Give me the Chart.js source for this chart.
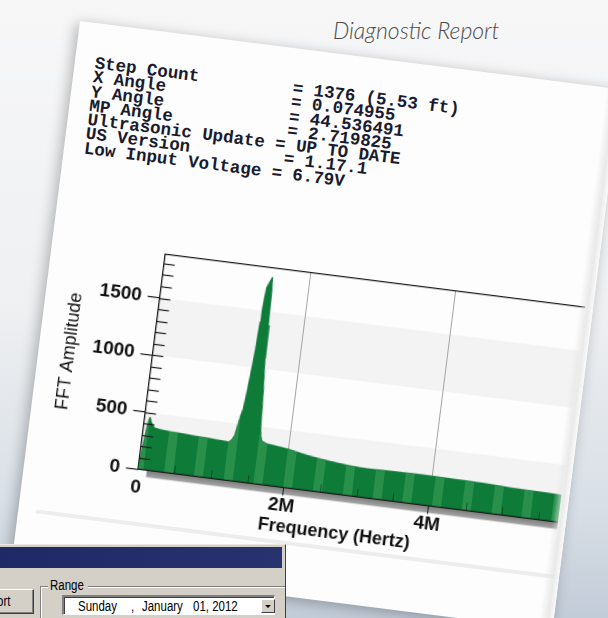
<!DOCTYPE html>
<html><head><meta charset="utf-8">
<script src="https://cdn.jsdelivr.net/npm/chart.js@4.4.1/dist/chart.umd.min.js"></script>
<style>
html,body{margin:0;padding:0;width:608px;height:618px;overflow:hidden;}
body{position:relative;background:linear-gradient(180deg,#f7f7f8 0%,#eef0f2 50%,#d8dfe6 82%,#c2ccd8 100%);font-family:"Liberation Sans",Arial,sans-serif;}
#title{position:absolute;left:333px;top:16px;font-family:Lato,"Open Sans",sans-serif;font-style:italic;font-weight:300;font-size:23px;color:#4d4d4d;}
#paper{position:absolute;left:80px;top:21px;width:545px;height:545px;background:#fdfdfd;transform-origin:0 0;transform:rotate(7.2deg);overflow:hidden;box-shadow:-3px 3px 14px rgba(0,0,0,0.28);}
#curl{position:absolute;right:0;top:0;width:14px;height:100%;background:linear-gradient(90deg,rgba(240,240,240,0),rgba(228,228,228,0.8) 60%,rgba(250,250,250,1));}
#report{position:absolute;left:20px;top:33px;margin:0;font-family:"Liberation Mono","Courier New",monospace;font-weight:bold;font-size:17.5px;line-height:14.3px;color:#1a1b2e;white-space:pre;}
#sep{position:absolute;left:18px;top:490px;width:530px;height:4px;background:#ededed;}
#clip{position:absolute;left:0;top:200px;width:537px;height:288px;overflow:hidden;}
#c{position:absolute;left:0;top:0;}
#dlg{position:absolute;left:0;top:544px;width:285px;height:74px;background:#d4d0c8;border-right:1px solid #404040;border-top:1px solid #ece9e3;font-family:"Liberation Sans",Arial,sans-serif;font-size:14px;color:#000;overflow:hidden;}
#tb{position:absolute;left:0;top:2px;right:3px;height:21px;background:linear-gradient(90deg,#1f2966,#27326e);}
#btn{position:absolute;left:-30px;top:44px;width:62px;height:23px;border-top:1px solid #fff;border-left:1px solid #fff;border-right:1px solid #404040;border-bottom:1px solid #404040;box-shadow:inset -1px -1px 0 #808080;}
#btn span{position:absolute;left:5px;top:0;line-height:23px;transform:scaleX(0.82);transform-origin:0 0;}
#grp{position:absolute;left:40px;top:41px;width:300px;height:60px;border-top:1px solid #808080;border-left:1px solid #808080;box-shadow:inset 1px 1px 0 #fff;}
#grpl{position:absolute;left:48px;top:32px;width:40px;height:17px;background:#d4d0c8;}
#grpl span{position:absolute;left:2px;top:0;line-height:17px;transform:scaleX(0.82);transform-origin:0 0;}
#dtp{position:absolute;left:62px;top:50px;width:210px;height:17px;background:#fff;border-top:2px solid #808080;border-left:2px solid #808080;border-bottom:1px solid #fff;border-right:1px solid #fff;box-shadow:inset 1px 1px 0 #404040;}
#dtp span{position:absolute;top:0;line-height:18px;transform:scaleX(0.82);transform-origin:0 0;white-space:pre;}
#dd{position:absolute;left:197px;top:2px;width:12px;height:12px;background:#d4d0c8;border-top:1px solid #fff;border-left:1px solid #fff;border-right:1px solid #404040;border-bottom:1px solid #404040;}
#dd:after{content:"";position:absolute;left:3px;top:5px;border-left:3px solid transparent;border-right:3px solid transparent;border-top:3px solid #000;}
</style></head>
<body>
<div id="title">Diagnostic Report</div>
<div id="paper">
<pre id="report">Step Count         = 1376 (5.53 ft)
X Angle            = 0.074955
Y Angle            = 44.536491
MP Angle           = 2.719825
Ultrasonic Update = UP TO DATE
US Version         = 1.17.1
Low Input Voltage = 6.79V</pre>
<div id="clip"><canvas id="c" width="632" height="288"></canvas></div>
<div id="sep"></div>
<div id="curl"></div>
</div>
<div id="dlg">
<div id="tb"></div>
<div id="btn"><span>Report</span></div>
<div id="grp"></div>
<div id="grpl"><span>Range</span></div>
<div id="dtp"><span style="left:14px">Sunday</span><span style="left:67px">,</span><span style="left:78px">January</span><span style="left:129px">01, 2012</span><div id="dd"></div></div>
</div>
<script>
const freqMHz = [0, 0.015, 0.03, 0.05, 0.07, 0.08, 0.1, 0.13, 0.16, 0.22,
  0.3, 0.4, 0.5, 0.6, 0.7, 0.8, 0.9, 1.0, 1.1, 1.18,
  1.22, 1.25, 1.28, 1.3, 1.32, 1.34, 1.36, 1.38, 1.39, 1.4,
  1.41, 1.43, 1.46, 1.48, 1.497, 1.509, 1.52, 1.532, 1.55, 1.566,
  1.58, 1.592, 1.61, 1.63, 1.7, 1.8, 1.9, 2.0, 2.1, 2.2,
  2.3, 2.4, 2.5, 2.6, 2.7, 2.8, 2.9, 3.0, 3.1, 3.2,
  3.3, 3.4, 3.5, 3.6, 3.7, 3.8, 3.9, 4.0, 4.1, 4.2,
  4.3, 4.4, 4.5, 4.6, 4.7, 4.8, 4.9, 5.0, 5.1, 5.2,
  5.3, 5.4, 5.5, 5.6, 5.7, 5.8, 5.9, 6.0, 6.2, 6.4, 6.6, 6.8, 7.0, 7.07];
const amplitude = [30, 120, 235, 380, 455, 462, 425, 392, 374, 367,
  362, 358, 356, 352, 349, 346, 344, 340, 337, 334,
  360, 395, 510, 580, 630, 760, 925, 1100, 1220, 1400,
  1520, 1700, 1750, 1780, 1800, 1670, 1380, 1090, 930, 800,
  640, 500, 420, 378, 360, 352, 345, 337, 324, 312,
  301, 292, 284, 277, 270, 264, 259, 256, 254, 255,
  257, 258, 259, 260, 261, 262, 262, 261, 260, 259,
  258, 258, 257, 256, 255, 253, 250, 247, 245, 244,
  243, 242, 241, 240, 238, 236, 235, 233, 230, 228, 226, 224, 222, 221];
const xMajorTicks = [0, 2, 4, 6];
const xTickLabels = ['0', '2M', '4M', '6M'];
const xMinorTicks = [0.5, 1, 1.5, 2.5, 3, 3.5, 4.5, 5, 5.5, 6.5];
const yMajorTicks = [0, 500, 1000, 1500];
const yMinorTicks = [100, 200, 300, 400, 500, 600, 700, 800, 900, 1000, 1100, 1200, 1300, 1400, 1500, 1600, 1700, 1800];
const bandRanges = [[0, 500], [1000, 1500]];
const xMax = 7.07, yMax = 1880;

const canvas = document.getElementById('c');
const ctx = canvas.getContext('2d');
function stripes(c2) {
  const p = document.createElement('canvas'); p.width = 30; p.height = 4;
  const g = p.getContext('2d');
  g.fillStyle = '#0f7b39'; g.fillRect(0, 0, 30, 4);
  g.fillStyle = '#29904b'; g.fillRect(20, 0, 9, 4);
  return c2.createPattern(p, 'repeat');
}
const bandsPlugin = {
  id: 'bands',
  beforeDraw(chart) {
    const {ctx: c, chartArea: a, scales: {y}} = chart;
    c.save();
    c.fillStyle = '#f3f3f3';
    bandRanges.forEach(([lo, hi]) => {
      const t = y.getPixelForValue(hi), b = y.getPixelForValue(lo);
      c.fillRect(a.left, t, a.right - a.left, b - t);
    });
    const grd = c.createLinearGradient(0, a.bottom, 0, a.bottom + 7);
    grd.addColorStop(0, '#7a7a7a'); grd.addColorStop(1, '#a8a8a8');
    c.fillStyle = grd;
    c.fillRect(a.left + 9, a.bottom, a.right - a.left, 7);
    c.restore();
  }
};
const overlayPlugin = {
  id: 'overlay',
  afterDatasetsDraw(chart) {
    const {ctx: c, chartArea: a, scales: {x, y}} = chart;
    c.save();
    c.strokeStyle = 'rgba(0,0,0,0.4)'; c.lineWidth = 1;
    xMinorTicks.forEach(v => {
      const px = Math.round(x.getPixelForValue(v)) + 0.5;
      c.beginPath(); c.moveTo(px, a.bottom); c.lineTo(px, a.bottom - 8); c.stroke();
    });
    c.strokeStyle = '#1a1a1a'; c.lineWidth = 1.3;
    c.beginPath(); c.moveTo(a.left, a.bottom); c.lineTo(a.right, a.bottom); c.stroke();
    c.beginPath(); c.moveTo(a.left, a.top); c.lineTo(a.right, a.top); c.stroke();
    c.lineWidth = 1.2;
    yMinorTicks.forEach(v => {
      const py = Math.round(y.getPixelForValue(v)) + 0.5;
      c.beginPath(); c.moveTo(a.left, py); c.lineTo(a.left + 11, py); c.stroke();
    });
    c.restore();
  }
};
const tickFont = {family: '"Liberation Sans", Arial, sans-serif', size: 19, weight: 'bold'};
new Chart(ctx, {
  type: 'line',
  data: {datasets: [{
    data: freqMHz.map((f, i) => ({x: f, y: amplitude[i]})),
    fill: 'origin', backgroundColor: stripes(ctx), borderColor: '#0e7637', borderWidth: 0.8,
    pointRadius: 0, tension: 0
  }]},
  options: {
    responsive: false, animation: false, devicePixelRatio: 1,
    layout: {padding: {top: 20.7, left: 0, right: 0, bottom: 0}},
    plugins: {
      legend: {display: false}, tooltip: {enabled: false},
      title: {display: true, text: 'Frequency (Hertz)', position: 'bottom', color: '#111',
        font: {family: '"Liberation Sans", Arial, sans-serif', size: 18, weight: 'bold'}, padding: {top: -3, bottom: 0}}
    },
    scales: {
      x: {
        type: 'linear', min: 0, max: xMax,
        ticks: {stepSize: 2, includeBounds: false, autoSkip: false, maxRotation: 0, padding: -1, color: '#111', font: tickFont,
          callback: v => { const i = xMajorTicks.indexOf(v); return i >= 0 ? xTickLabels[i] : ''; }},
        grid: {color: c => (c.tick && c.tick.value === 0) ? 'rgba(0,0,0,0)' : '#a4a4a4', lineWidth: 1, tickLength: 8,
          tickColor: c => (c.tick && c.tick.value === 0) ? 'rgba(0,0,0,0)' : '#1a1a1a'},
        border: {display: false},
        afterFit: s => { s.height = 32; }
      },
      y: {
        type: 'linear', min: 0, max: yMax, z: 1,
        ticks: {stepSize: 100, includeBounds: false, autoSkip: false, padding: 6, color: '#111', font: tickFont,
          callback: v => yMajorTicks.includes(v) ? String(v) : ''},
        grid: {drawOnChartArea: false, tickLength: 12, lineWidth: 1.2,
          tickColor: c => (c.tick && yMajorTicks.includes(c.tick.value)) ? '#1a1a1a' : 'rgba(0,0,0,0)',
          color: c => (c.tick && yMajorTicks.includes(c.tick.value)) ? '#1a1a1a' : 'rgba(0,0,0,0)'},
        border: {display: true, color: '#1a1a1a', width: 1.3},
        title: {display: true, text: 'FFT Amplitude', color: '#111',
          font: {family: '"Liberation Sans Narrow", "Liberation Sans", Arial, sans-serif', size: 18}, padding: {top: 20, bottom: 0}},
        afterFit: s => { s.width = 113.6; }
      }
    }
  },
  plugins: [bandsPlugin, overlayPlugin]
});
</script>
</body></html>
